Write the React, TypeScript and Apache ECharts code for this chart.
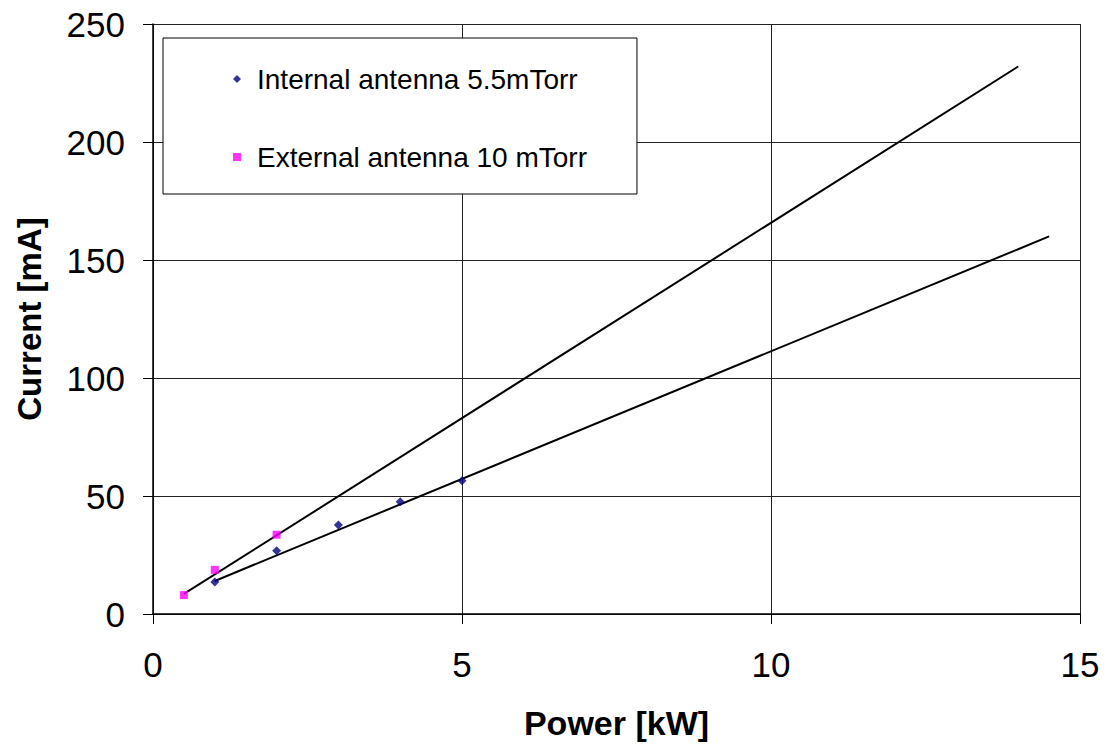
import React, { useEffect, useRef } from "react";
import * as echarts from "echarts";

const internalPower = [1, 2, 3, 4, 5];
const internalCurrent = [13.6, 26.8, 37.7, 47.6, 56.5];
const externalPower = [0.5, 1, 2];
const externalCurrent = [8, 18.7, 33.6];
const internalTrendPower = [1, 14.5];
const internalTrendCurrent = [14, 160];
const externalTrendPower = [0.5, 14];
const externalTrendCurrent = [8.5, 232];
const seriesNames = ["Internal antenna 5.5mTorr", "External antenna 10 mTorr"];

const zip = (a: number[], b: number[]) => a.map((v, i) => [v, b[i]]);

export default function App() {
  const ref = useRef<HTMLDivElement>(null);
  useEffect(() => {
    if (!ref.current) return;
    const chart = echarts.init(ref.current, null, { renderer: "svg" });
    const font = "Arial, 'Liberation Sans', sans-serif";
    chart.setOption({
      animation: false,
      backgroundColor: "#fff",
      textStyle: { fontFamily: font },
      grid: { left: 153, right: 29, top: 24, bottom: 137 },
      legend: {
        data: seriesNames,
        orient: "vertical",
        left: 163,
        top: 38,
        backgroundColor: "#fff",
        borderColor: "#000",
        borderWidth: 1,
        padding: [26, 50, 22, 70],
        itemGap: 48,
        itemWidth: 8,
        itemHeight: 8,
        textStyle: { fontSize: 28, color: "#000", fontFamily: font, padding: [0, 0, 0, 11], lineHeight: 30 },
      },
      xAxis: {
        type: "value",
        min: 0,
        max: 15,
        interval: 5,
        name: "Power [kW]",
        nameLocation: "middle",
        nameGap: 92,
        nameTextStyle: { fontSize: 34, fontWeight: "bold", color: "#000", fontFamily: font },
        axisLine: { show: true, onZero: false, lineStyle: { color: "#000", width: 1.5 } },
        axisTick: { show: true, length: 10, lineStyle: { color: "#000" } },
        axisLabel: { fontSize: 35, color: "#000", margin: 33, fontFamily: font },
        splitLine: { show: true, lineStyle: { color: "#222", width: 1 } },
      },
      yAxis: {
        type: "value",
        min: 0,
        max: 250,
        interval: 50,
        name: "Current [mA]",
        nameLocation: "middle",
        nameGap: 107,
        nameRotate: 90,
        nameTextStyle: { fontSize: 33, fontWeight: "bold", color: "#000", fontFamily: font },
        axisLine: { show: true, onZero: false, lineStyle: { color: "#000", width: 1.5 } },
        axisTick: { show: true, length: 10, lineStyle: { color: "#000" } },
        axisLabel: { fontSize: 35, color: "#000", margin: 28, fontFamily: font },
        splitLine: { show: true, lineStyle: { color: "#222", width: 1 } },
      },
      series: [
        {
          type: "line",
          data: zip(externalTrendPower, externalTrendCurrent),
          showSymbol: false,
          silent: true,
          lineStyle: { color: "#000", width: 2 },
          z: 2,
        },
        {
          type: "line",
          data: zip(internalTrendPower, internalTrendCurrent),
          showSymbol: false,
          silent: true,
          lineStyle: { color: "#000", width: 2 },
          z: 2,
        },
        {
          name: seriesNames[0],
          type: "scatter",
          symbol: "diamond",
          symbolSize: 9,
          itemStyle: { color: "#000080" },
          data: zip(internalPower, internalCurrent),
          z: 3,
        },
        {
          name: seriesNames[1],
          type: "scatter",
          symbol: "rect",
          symbolSize: 8,
          itemStyle: { color: "#FF00FF" },
          data: zip(externalPower, externalCurrent),
          z: 3,
        },
      ],
    });
    return () => chart.dispose();
  }, []);
  return (
    <div
      ref={ref}
      style={{ position: "absolute", left: 0, top: 0, width: 1109, height: 751 }}
    />
  );
}
